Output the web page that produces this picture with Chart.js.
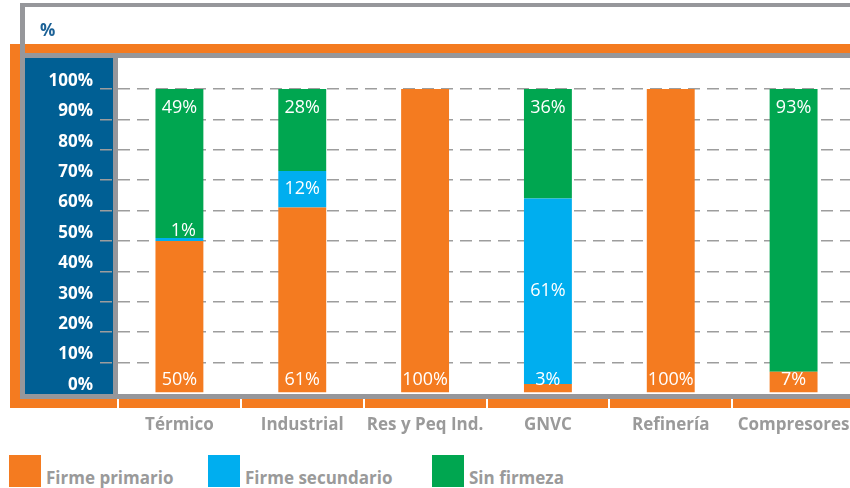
<!DOCTYPE html>
<html>
<head>
<meta charset="utf-8">
<script src="https://cdn.jsdelivr.net/npm/chart.js@4/dist/chart.umd.min.js"></script>
<style>
  html, body { margin: 0; padding: 0; overflow: hidden; background: #fff; }
  body { width: 850px; height: 488px; position: relative; font-family: "Open Sans", sans-serif; }
  #chart { position: absolute; left: 0; top: 0; }
  #unit { position: absolute; left: 40px; top: 20px; font-size: 17px; font-weight: 700; color: #1b6196; line-height: 20px; }
  #legend { position: absolute; left: 0; top: 455px; }
  .item { position: absolute; top: 0; height: 32px; display: flex; align-items: flex-end; white-space: nowrap; }
  .box { width: 32px; height: 32px; margin-right: 5px; }
  .txt { font-size: 17px; font-weight: 700; color: #9a9a9a; line-height: 17px; margin-bottom: 1px; }
</style>
</head>
<body>
<canvas id="chart" width="860" height="440"></canvas>
<div id="unit">%</div>
<div id="legend"></div>
<script>
const categories = ["Térmico", "Industrial", "Res y Peq Ind.", "GNVC", "Refinería", "Compresores"];
const seriesNames = ["Firme primario", "Firme secundario", "Sin firmeza"];
const firmePrimario = [50, 61, 100, 3, 100, 7];
const firmeSecundario = [1, 12, 0, 61, 0, 0];
const sinFirmeza = [49, 28, 0, 36, 0, 93];
const yTicks = [0, 10, 20, 30, 40, 50, 60, 70, 80, 90, 100];

const colors = ["#f47b20", "#00aeef", "#00a650"];
const legendLeft = [9, 208, 432];

const legend = document.getElementById("legend");
seriesNames.forEach((name, i) => {
  const item = document.createElement("div");
  item.className = "item";
  item.style.left = legendLeft[i] + "px";
  item.innerHTML = '<div class="box" style="background:' + colors[i] + '"></div><div class="txt">' + name + '</div>';
  legend.appendChild(item);
});

// frame behind the chart: grey box, orange bands, blue axis panel
const framePlugin = {
  id: "frame",
  beforeDraw(chart) {
    const c = chart.ctx;
    c.save();
    c.fillStyle = "#f47b20";
    c.fillRect(10, 44, 850, 9);
    c.fillRect(10, 44, 10, 364);
    c.fillRect(10, 399, 850, 9);
    c.fillStyle = "#96979b";
    c.fillRect(20, 3, 840, 4);
    c.fillRect(20, 3, 5, 396);
    c.fillRect(20, 53, 840, 5);
    c.fillStyle = "#005f94";
    c.fillRect(25, 58, 88, 336);
    c.restore();
  },
  afterDraw(chart) {
    const c = chart.ctx;
    const x = chart.scales.x;
    c.save();
    c.fillStyle = "#96979b";
    c.fillRect(113, 58, 5, 341);
    c.fillRect(20, 394, 840, 5);
    // white separators between categories in the orange band
    c.fillStyle = "#ffffff";
    const step = x.getPixelForValue(1) - x.getPixelForValue(0);
    for (let i = 0; i <= categories.length; i++) {
      const px = x.getPixelForValue(i) - step / 2;
      c.fillRect(Math.round(px) - 1, 399, 2, 9);
    }
    c.restore();
  }
};

// percentage labels inside the bars
const labelPlugin = {
  id: "barLabels",
  afterDatasetsDraw(chart) {
    const c = chart.ctx;
    const top = chart.chartArea.top;
    c.save();
    c.font = "18px 'Open Sans'";
    c.fillStyle = "#ffffff";
    c.textAlign = "center";
    c.textBaseline = "middle";
    chart.data.datasets.forEach((ds, di) => {
      const meta = chart.getDatasetMeta(di);
      meta.data.forEach((bar, i) => {
        const v = ds.data[i];
        if (!v) return;
        const y = Math.max(bar.y, top);
        let ty;
        if (di === 0) ty = bar.base - 12;
        else if (di === 2) ty = y + 19;
        else ty = (bar.base - y) > 24 ? (y + bar.base) / 2 : y - 7;
        c.fillText(v + "%", bar.x + (di === 1 && bar.base - y <= 24 ? 4 : 0), ty);
      });
    });
    c.restore();
  }
};

new Chart(document.getElementById("chart"), {
  type: "bar",
  data: {
    labels: categories,
    datasets: [
      { label: seriesNames[0], data: firmePrimario, backgroundColor: colors[0] },
      { label: seriesNames[1], data: firmeSecundario, backgroundColor: colors[1] },
      { label: seriesNames[2], data: sinFirmeza, backgroundColor: colors[2] }
    ]
  },
  options: {
    responsive: false,
    animation: false,
    layout: { padding: { top: 89, right: 5, left: 0, bottom: 0 } },
    datasets: { bar: { barPercentage: 0.39, categoryPercentage: 1 } },
    plugins: { legend: { display: false }, tooltip: { enabled: false } },
    scales: {
      x: {
        stacked: true,
        grid: { display: false, drawTicks: false },
        border: { display: false },
        ticks: {
          color: "#9a9a9a",
          font: { family: "Open Sans", size: 17, weight: "bold", lineHeight: "60px" },
          padding: 2
        },
        afterFit(s) { s.height = 47; }
      },
      y: {
        stacked: true,
        min: 0,
        max: 100,
        afterBuildTicks(s) { s.ticks = yTicks.map(v => ({ value: v })); },
        grid: {
          color: ctx => ctx.tick && ctx.tick.value === 0 ? "rgba(0,0,0,0)" : "#9d9d9d",
          lineWidth: 1.5,
          tickBorderDash: [12, 7],
          tickLength: 18
        },
        border: { display: false, dash: [12, 7] },
        ticks: {
          color: "#ffffff",
          font: { family: "Open Sans", size: 17, weight: "bold" },
          padding: 7,
          labelOffset: -8,
          callback: v => v + "%"
        },
        afterFit(s) { s.width = 118; }
      }
    }
  },
  plugins: [framePlugin, labelPlugin]
});
</script>
</body>
</html>
